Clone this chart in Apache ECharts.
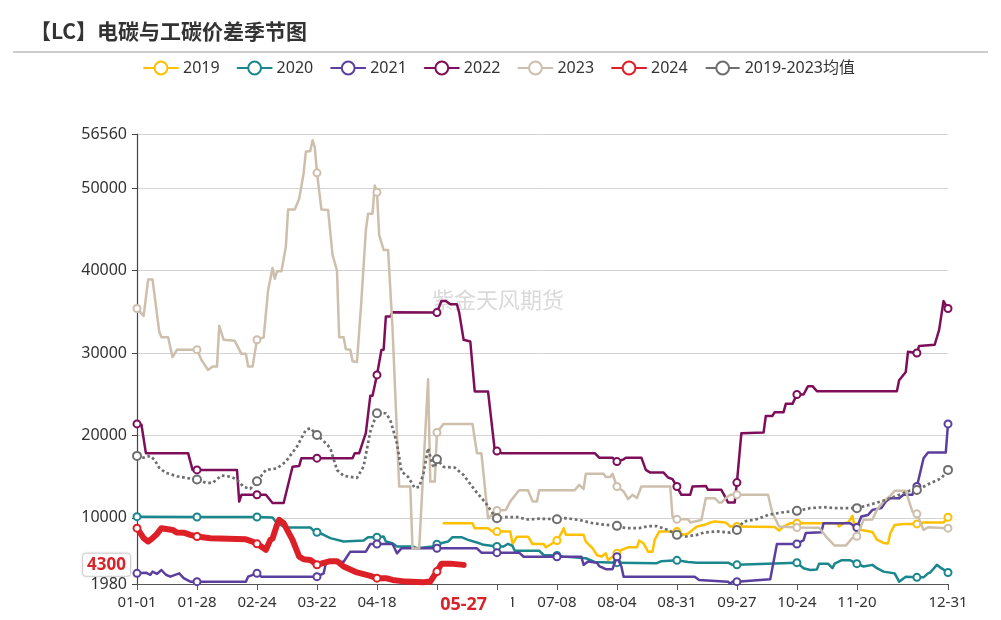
<!DOCTYPE html>
<html><head><meta charset="utf-8">
<script src="https://cdn.jsdelivr.net/npm/echarts@6/dist/echarts.min.js"></script>
<style>html,body{margin:0;padding:0;background:#fff}#c{width:1001px;height:620px}</style>
</head><body><div id="c"></div>
<script>
// Categories: every day of a leap year (MM-DD)
const categories = [];
for (let i = 0; i < 366; i++) {
  const d = new Date(2024, 0, 1 + i);
  categories.push(String(d.getMonth() + 1).padStart(2, '0') + '-' + String(d.getDate()).padStart(2, '0'));
}
const seriesNames = ['2019', '2020', '2021', '2022', '2023', '2024', '2019-2023均值'];
const lastDate = '05-27';
const lastValue = 4300;

// [day index, value]
const data2019 = [[138,9360],[151,9360],[152,8750],[158,8750],[160,8340],[162,8340],[168,8340],[169,6830],[171,7720],[176,7720],[178,6830],[183,6830],[184,6430],[187,6930],[189,7250],[191,8160],[192,8750],[193,7940],[201,7940],[202,7130],[205,6330],[207,5500],[209,5290],[211,5700],[212,4890],[214,5290],[216,5700],[218,6100],[221,6430],[225,6430],[226,7250],[228,6900],[230,5900],[232,5900],[233,7330],[235,8340],[243,8340],[246,7940],[248,8100],[252,8950],[256,9200],[258,9430],[260,9550],[265,9430],[267,8950],[270,8950],[287,8900],[289,8450],[291,8950],[294,9360],[297,9360],[315,9360],[316,8950],[318,9360],[320,9430],[322,10240],[323,8950],[324,8900],[326,8530],[331,8300],[333,7370],[336,6960],[338,6890],[339,8110],[341,9150],[345,9270],[351,9270],[354,9430],[363,9430],[365,10080]];
const data2020 = [[0,10150],[27,10100],[54,10100],[61,10050],[63,9360],[67,8830],[78,8830],[80,8340],[81,8260],[84,7950],[87,7540],[93,7130],[102,7250],[104,7660],[108,7660],[111,7740],[112,7130],[115,6930],[117,6530],[124,6530],[126,6330],[133,6530],[135,6800],[140,7130],[142,7660],[146,7660],[149,7330],[153,7010],[156,6730],[162,6530],[165,6530],[167,6860],[169,6600],[170,6020],[181,6020],[183,5500],[189,5450],[192,5300],[202,5100],[206,4650],[216,4570],[234,4500],[236,4750],[243,4850],[248,4650],[252,4570],[266,4570],[268,4300],[270,4300],[297,4570],[300,3900],[303,3680],[306,3750],[307,4450],[311,4450],[313,3900],[314,4450],[317,4850],[321,4850],[324,4450],[327,4100],[331,4300],[333,3900],[336,3480],[341,3270],[343,2260],[346,2870],[351,2790],[354,2790],[356,3270],[357,3370],[360,4300],[362,3900],[365,3370]];
const data2021 = [[0,3270],[4,3350],[6,3100],[7,3480],[9,3200],[11,3680],[13,3100],[15,2870],[19,3270],[21,2690],[24,2260],[27,2260],[49,2260],[50,2870],[54,3270],[56,2870],[81,2870],[84,3270],[85,4500],[88,4680],[93,4680],[96,5900],[103,5900],[105,6830],[108,6830],[115,6830],[117,5700],[119,6310],[135,6310],[153,6310],[155,5780],[162,5780],[172,5780],[174,5290],[189,5290],[200,5290],[201,4300],[203,4700],[207,4570],[208,4150],[211,3780],[214,3780],[216,5290],[218,4100],[219,2870],[251,2870],[253,2470],[266,2260],[267,1990],[268,2260],[270,2260],[285,2550],[288,6830],[297,6830],[300,7300],[301,8180],[308,8250],[309,9360],[321,9360],[323,8950],[324,8830],[326,10160],[329,10350],[331,10970],[335,11200],[337,11980],[339,12390],[343,12390],[345,12800],[349,12800],[350,13800],[351,13800],[354,17240],[356,17920],[364,17920],[365,21400]];
const data2022 = [[0,21400],[2,21300],[4,17850],[23,17850],[25,15820],[27,15820],[45,15820],[46,11980],[47,12800],[54,12800],[58,12800],[61,11800],[66,11800],[70,16200],[73,16300],[74,17240],[81,17240],[97,17240],[98,17850],[100,17850],[103,20300],[105,24800],[106,24800],[108,27340],[110,30370],[111,30400],[112,34420],[114,34420],[115,34950],[135,34900],[137,36300],[139,36300],[141,35900],[144,35900],[145,34900],[147,31600],[150,31400],[152,25330],[158,25330],[161,18210],[162,18100],[164,17850],[206,17850],[208,17300],[214,17300],[216,16830],[219,17100],[220,17300],[227,17300],[229,15820],[231,15490],[237,15490],[239,14900],[241,14700],[243,13800],[245,12800],[249,12800],[250,13800],[256,13880],[257,13400],[263,13400],[265,12390],[266,11860],[269,11860],[270,14280],[272,20270],[282,20350],[283,22370],[286,22370],[287,22820],[291,22820],[292,23830],[295,23830],[297,24960],[300,24960],[302,25970],[304,25970],[306,25370],[342,25370],[343,26700],[346,27700],[347,30150],[351,30000],[352,30850],[359,31000],[361,32800],[363,36300],[364,35800],[365,35400]];
const data2023 = [[0,35400],[3,34500],[5,38900],[7,38900],[10,32600],[11,31900],[14,31900],[16,29500],[18,30400],[27,30400],[29,29160],[32,27940],[34,28350],[36,28350],[37,33290],[39,31600],[44,31470],[47,29900],[49,29900],[50,28350],[52,28350],[54,31600],[57,31900],[59,37600],[61,40300],[62,39000],[63,39900],[65,39900],[67,42900],[68,47400],[71,47400],[73,48700],[75,51800],[76,54400],[78,54500],[79,55800],[80,55000],[81,51850],[83,47400],[86,47350],[88,41900],[90,40000],[91,31900],[93,31900],[94,30450],[96,30400],[97,29000],[99,28900],[101,36400],[103,44900],[104,46900],[106,46900],[107,50300],[108,49500],[109,44300],[111,42500],[113,42500],[115,33000],[118,13800],[123,13800],[124,6300],[127,6300],[131,26800],[132,14400],[134,14400],[135,20350],[138,21400],[151,21400],[153,17850],[155,17850],[158,9960],[162,10900],[166,10950],[168,12000],[172,13350],[176,13350],[178,12000],[180,12000],[181,13350],[197,13350],[199,14000],[201,13500],[202,15350],[210,15350],[211,14950],[213,14950],[214,15350],[216,13800],[219,13200],[221,12270],[223,12800],[225,12400],[227,13800],[240,13800],[241,10160],[243,9840],[248,9840],[249,9450],[254,9750],[256,12390],[260,12390],[262,11860],[263,11860],[265,12400],[267,12800],[270,12800],[284,12800],[286,10570],[289,8950],[297,8830],[307,8800],[310,7770],[314,6640],[319,6640],[322,7570],[324,7770],[327,9760],[331,9800],[333,10970],[336,11980],[339,12670],[341,13280],[346,13280],[347,12390],[349,10770],[351,10490],[354,8540],[356,8870],[365,8750]];
const data2024 = [[0,8750],[3,7540],[5,7130],[7,7540],[9,8050],[11,8750],[16,8540],[18,8220],[21,8200],[24,7940],[27,7740],[33,7540],[49,7400],[52,7130],[54,6850],[57,6330],[58,6120],[60,7330],[61,7500],[63,9150],[64,9760],[66,9360],[68,8340],[70,7330],[73,5300],[75,4980],[78,4900],[81,4300],[84,4550],[87,4750],[90,4750],[93,4100],[99,3380],[105,2960],[108,2690],[112,2690],[115,2470],[121,2270],[129,2190],[132,2270],[135,3500],[137,4450],[141,4450],[147,4300]];
const dataAvg = [[0,17520],[3,17300],[6,17520],[8,17000],[10,16060],[13,15460],[18,15050],[22,14850],[27,14650],[31,14240],[34,14240],[38,15130],[42,15000],[45,14650],[48,13760],[51,13530],[54,14450],[58,15820],[63,16000],[67,16830],[72,18650],[76,20670],[78,20870],[81,20060],[85,19050],[87,18450],[90,15820],[93,15100],[99,14850],[102,16250],[105,20470],[108,22690],[112,22690],[114,21880],[117,19050],[119,15650],[122,14970],[125,13630],[127,13760],[129,15460],[131,18450],[133,16430],[134,16100],[135,17100],[138,16180],[143,16100],[147,15190],[152,13380],[157,11780],[160,10570],[162,9960],[166,10100],[171,10100],[176,9800],[181,9900],[189,9840],[193,9960],[199,9750],[205,9360],[211,9150],[216,9030],[220,8750],[226,8750],[230,9000],[234,9000],[239,8530],[243,7940],[247,7740],[252,7940],[255,8200],[261,8360],[267,8200],[270,8540],[273,9550],[279,9840],[284,10360],[290,10650],[297,10850],[303,11180],[309,11300],[315,11180],[324,11180],[330,11600],[336,12100],[342,12670],[348,13310],[351,13380],[357,14200],[362,14800],[365,15820]];

const seriesData = [data2019, data2020, data2021, data2022, data2023, data2024, dataAvg];
const colors = ['#FFC000', '#1A878D', '#5B3F9F', '#7E0E5A', '#CDBFAC', '#DD2027', '#6E6E6E'];
const FONT = '"Noto Sans", "Noto Sans CJK SC", sans-serif';

const chart = echarts.init(document.getElementById('c'), null, { renderer: 'canvas' });
const series = seriesNames.map((name, i) => {
  const isAvg = i === 6, isNow = i === 5;
  return {
    name, type: 'line', data: seriesData[i],
    symbol: 'emptyCircle', symbolSize: isAvg ? 8 : 7,
    showSymbol: true, showAllSymbol: 'auto',
    smooth: false,
    itemStyle: { color: colors[i], borderWidth: 1.5 },
    lineStyle: { width: isNow ? 6 : (isAvg ? 2.7 : 2.5), type: isAvg ? 'dotted' : 'solid', join: 'round', cap: isAvg ? 'butt' : 'round' },
    emphasis: { disabled: true },
    z: 2 + i
  };
});

chart.setOption({
  animation: false,
  color: colors,
  textStyle: { fontFamily: FONT },
  title: {
    text: '【LC】电碳与工碳价差季节图', left: 25, top: 16,
    textStyle: { fontSize: 21, fontWeight: 'bold', color: '#333', fontFamily: '"Noto Sans CJK SC", sans-serif' }
  },
  graphic: [
    { type: 'line', shape: { x1: 13, y1: 52, x2: 988, y2: 52 }, style: { stroke: '#bdbdbd', lineWidth: 1.5 }, silent: true },
    { type: 'text', left: 432, top: 289, z: 0, silent: true,
      style: { text: '紫金天风期货', fill: 'rgba(170,170,170,0.45)', font: '22px "Noto Sans CJK SC"' } }
  ],
  legend: {
    left: 138, top: 55, itemWidth: 34, itemHeight: 16, itemGap: 17,
    textStyle: { fontSize: 16, color: '#333', fontFamily: FONT },
    lineStyle: { width: 2, type: 'solid' },
    data: seriesNames
  },
  grid: { left: 137, right: 53, top: 134, bottom: 36, containLabel: false },
  xAxis: {
    type: 'category', data: categories, boundaryGap: false,
    axisLine: { lineStyle: { color: '#555', width: 1.2 } },
    axisTick: { length: 6, interval: 26, lineStyle: { color: '#555' } },
    axisLabel: { interval: 26, showMaxLabel: true, fontSize: 15, color: '#333', margin: 11 },
    splitLine: { show: false },
    axisPointer: {
      show: true, type: 'line', status: 'show', value: categories.indexOf(lastDate), snap: false,
      triggerTooltip: false, lineStyle: { opacity: 0, width: 0 },
      label: { show: true, backgroundColor: '#fff', color: '#D9232A', fontWeight: 'bold', fontSize: 18,
               padding: [3, 24, 3, 24], margin: 9, borderRadius: 0, shadowBlur: 0 }
    }
  },
  yAxis: {
    type: 'value', min: 1980, max: 56560,
    axisLine: { show: true, lineStyle: { color: '#444', width: 1.2 } },
    axisTick: { show: true, length: 5, lineStyle: { color: '#444' } },
    axisLabel: { fontSize: 16, color: '#333', margin: 10, formatter: v => String(v) },
    splitLine: { lineStyle: { color: '#d3d3d3', width: 1 } },
    axisPointer: {
      show: true, type: 'line', status: 'show', value: lastValue, snap: false,
      triggerTooltip: false, lineStyle: { opacity: 0, width: 0 },
      label: { show: true, formatter: p => String(Math.round(p.value)), backgroundColor: '#fff', color: '#D9232A',
               fontWeight: 'bold', fontSize: 17, padding: [3, 4, 2, 4], margin: 7, borderColor: '#d8d8d8', borderWidth: 1,
               borderRadius: 3, shadowBlur: 3, shadowColor: 'rgba(0,0,0,0.12)' }
    }
  },
  series
});
</script>
</body></html>
